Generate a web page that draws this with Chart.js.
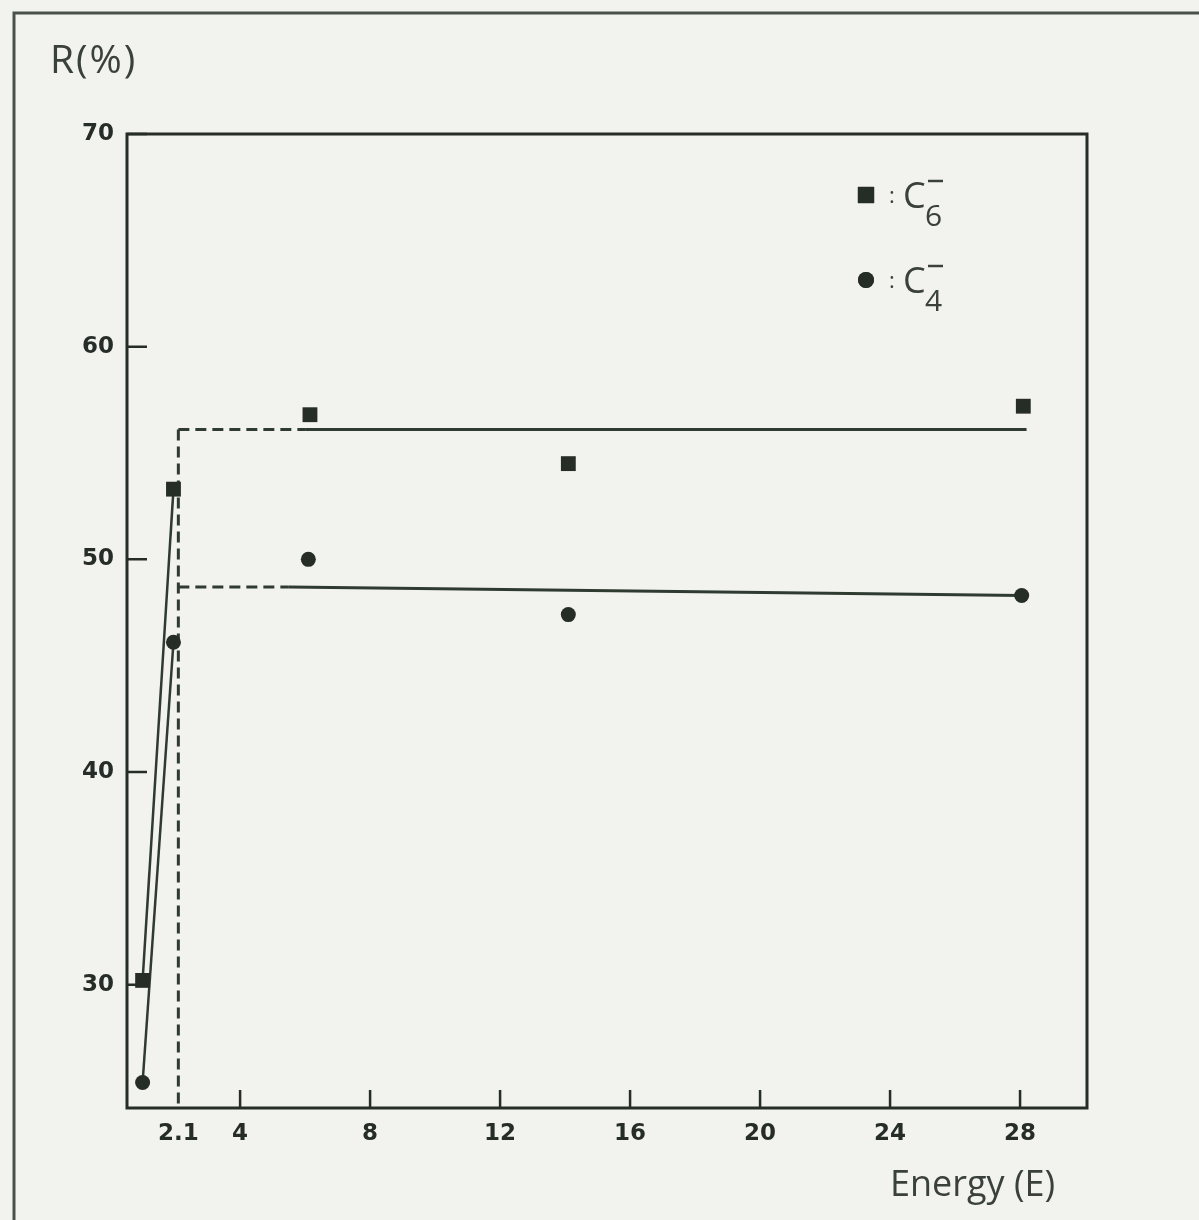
<!DOCTYPE html>
<html>
<head>
<meta charset="utf-8">
<title>R(%) vs Energy (E)</title>
<script src="https://cdn.jsdelivr.net/npm/chart.js@4/dist/chart.umd.min.js"></script>
<style>
  html, body { margin: 0; padding: 0; background: #f2f3ef; }
  #wrap { width: 1199px; height: 1220px; }
</style>
</head>
<body>
<div id="wrap"><canvas id="c" width="1199" height="1220"></canvas></div>
<script>
// Measured yields R(%) of C6- and C4- versus energy E
const sqEnergy = [1.0, 1.95, 6.15, 14.1, 28.1];
const sqR      = [30.2, 53.3, 56.8, 54.5, 57.2];
const ciEnergy = [1.0, 1.95, 6.1, 14.1, 28.05];
const ciR      = [25.4, 46.1, 50.0, 47.4, 48.3];

// Plateau fits (first segment dashed back to the threshold)
const thresholdE = 2.1;
const sqFitE = [2.1, 6.0, 28.2];
const sqFitR = [56.1, 56.1, 56.1];
const ciFitE = [2.1, 5.5, 28.05];
const ciFitR = [48.7, 48.7, 48.3];

// Axis ranges and ticks
const xMin = 0.52, xMax = 30.06;
const yMin = 24.2, yMax = 70;
const xTicks = [2.1, 4, 8, 12, 16, 20, 24, 28];
const xTickMarks = [4, 8, 12, 16, 20, 24, 28];
const yTicks = [30, 40, 50, 60, 70];

const INK = '#262d27';
const LINE = '#2f3a31';
const TEXT = '#3a403b';

const pts = (xs, ys) => xs.map((x, i) => ({ x, y: ys[i] }));
const dashFirst = ctx => ctx.p0DataIndex === 0 ? [11, 6] : undefined;

const decor = {
  id: 'decor',
  beforeDraw(chart) {
    const ctx = chart.ctx;
    ctx.save();
    ctx.fillStyle = '#f2f3ef';
    ctx.fillRect(0, 0, chart.width, chart.height);
    // page frame
    ctx.strokeStyle = '#4a514b';
    ctx.lineWidth = 3;
    ctx.beginPath();
    ctx.moveTo(14, 1220);
    ctx.lineTo(14, 13);
    ctx.lineTo(1199, 13);
    ctx.stroke();
    ctx.restore();
  },
  afterDraw(chart) {
    const ctx = chart.ctx;
    const a = chart.chartArea;
    const xs = chart.scales.x, ys = chart.scales.y;
    ctx.save();
    // plot frame
    ctx.strokeStyle = INK;
    ctx.lineWidth = 3;
    ctx.strokeRect(a.left, a.top, a.right - a.left, a.bottom - a.top);
    // inward tick marks
    ctx.lineWidth = 2.5;
    ctx.beginPath();
    xTickMarks.forEach(v => {
      const px = xs.getPixelForValue(v);
      ctx.moveTo(px, a.bottom);
      ctx.lineTo(px, a.bottom - 18);
    });
    yTicks.forEach(v => {
      const py = ys.getPixelForValue(v);
      ctx.moveTo(a.left, py);
      ctx.lineTo(a.left + 20, py);
    });
    ctx.stroke();

    // axis titles
    ctx.fillStyle = TEXT;
    ctx.textBaseline = 'alphabetic';
    ctx.textAlign = 'left';
    ctx.font = '39px "Open Sans"';
    ctx.letterSpacing = '2px';
    ctx.fillText('R(%)', 50, 73);
    ctx.letterSpacing = '0px';
    ctx.font = '36px "Open Sans"';
    ctx.fillText('Energy (E)', 890, 1196);

    // key
    const keys = [
      { style: 'rect', r: 11.5, y: 195, sub: '6' },
      { style: 'circle', r: 8, y: 280, sub: '4' }
    ];
    keys.forEach(k => {
      ctx.fillStyle = INK;
      Chart.helpers.drawPoint(ctx, { pointStyle: k.style, radius: k.r, borderWidth: 0 }, 866, k.y);
      ctx.fill();
      ctx.fillStyle = TEXT;
      ctx.font = '22px "Open Sans"';
      ctx.textAlign = 'center';
      ctx.fillText(':', 892, k.y + 8);
      ctx.textAlign = 'left';
      ctx.font = '36px "Open Sans"';
      ctx.fillText('C', 903, k.y + 13);
      ctx.font = '30px "Open Sans"';
      ctx.fillText(k.sub, 925, k.y + 31);
      ctx.strokeStyle = TEXT;
      ctx.lineWidth = 2.5;
      ctx.beginPath();
      ctx.moveTo(928, k.y - 14);
      ctx.lineTo(943, k.y - 14);
      ctx.stroke();
    });
    ctx.restore();
  }
};

new Chart(document.getElementById('c'), {
  type: 'scatter',
  data: {
    datasets: [
      {
        label: 'C6-',
        data: pts(sqEnergy, sqR),
        pointStyle: 'rect',
        pointRadius: 10.5,
        backgroundColor: INK,
        borderColor: INK,
        borderWidth: 0,
        showLine: false,
        order: 0
      },
      {
        label: 'C4-',
        data: pts(ciEnergy, ciR),
        pointStyle: 'circle',
        pointRadius: 7.5,
        backgroundColor: INK,
        borderColor: INK,
        borderWidth: 0,
        showLine: false,
        order: 0
      },
      {
        label: 'C6- rise',
        data: pts(sqEnergy.slice(0, 2), sqR.slice(0, 2)),
        showLine: true, pointRadius: 0,
        borderColor: LINE, borderWidth: 2.5, order: 1
      },
      {
        label: 'C4- rise',
        data: pts(ciEnergy.slice(0, 2), ciR.slice(0, 2)),
        showLine: true, pointRadius: 0,
        borderColor: LINE, borderWidth: 2.5, order: 1
      },
      {
        label: 'C6- plateau',
        data: pts(sqFitE, sqFitR),
        showLine: true, pointRadius: 0,
        borderColor: LINE, borderWidth: 3,
        segment: { borderDash: dashFirst },
        order: 1
      },
      {
        label: 'C4- plateau',
        data: pts(ciFitE, ciFitR),
        showLine: true, pointRadius: 0,
        borderColor: LINE, borderWidth: 3,
        segment: { borderDash: dashFirst },
        order: 1
      },
      {
        label: 'threshold',
        data: [{ x: thresholdE, y: sqFitR[0] }, { x: thresholdE, y: yMin }],
        showLine: true, pointRadius: 0,
        borderColor: LINE, borderWidth: 3, borderDash: [11, 6],
        order: 1
      }
    ]
  },
  options: {
    responsive: false,
    devicePixelRatio: 1,
    animation: false,
    layout: { padding: { top: 134, right: 112, left: 0, bottom: 0 } },
    plugins: { legend: { display: false }, tooltip: { enabled: false } },
    scales: {
      x: {
        type: 'linear',
        min: xMin, max: xMax,
        grid: { display: false, drawTicks: false },
        border: { display: false },
        afterBuildTicks: s => { s.ticks = xTicks.map(v => ({ value: v })); },
        afterFit: s => { s.height = 112; },
        ticks: {
          autoSkip: false, maxRotation: 0, padding: 12,
          color: '#262c27',
          font: { family: 'DejaVu Sans', size: 23, weight: 'bold' },
          callback: v => v === 2.1 ? '2.1' : String(v)
        }
      },
      y: {
        type: 'linear',
        min: yMin, max: yMax,
        grid: { display: false, drawTicks: false },
        border: { display: false },
        afterBuildTicks: s => { s.ticks = yTicks.map(v => ({ value: v })); },
        afterFit: s => { s.width = 127; },
        ticks: {
          padding: 13,
          color: '#262c27',
          font: { family: 'DejaVu Sans', size: 23, weight: 'bold' }
        }
      }
    }
  },
  plugins: [decor]
});
</script>
</body>
</html>
